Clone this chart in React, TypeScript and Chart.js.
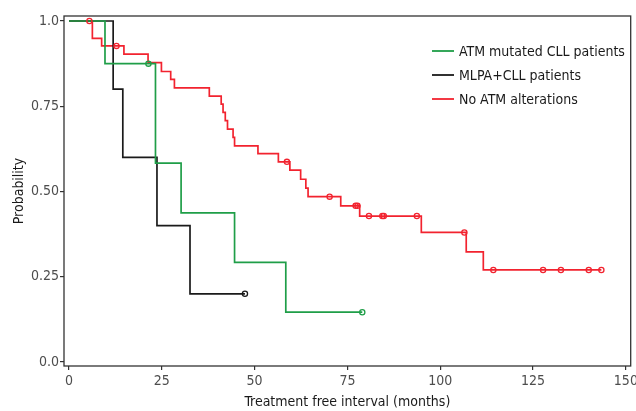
import React, { useEffect, useRef } from 'react';
import { Chart, registerables } from 'chart.js';

Chart.register(...registerables);

const FONT_FAMILY = "'Liberation Sans Narrow', 'Arial Narrow', 'DejaVu Sans Condensed', sans-serif";

const seriesNames = ['ATM mutated CLL patients', 'MLPA+CLL patients', 'No ATM alterations'];
const seriesColors = ['#1f9e48', '#1a1a1a', '#f2232f'];

// ATM mutated CLL patients
const atmTimes = [0, 9.7, 23.3, 30.2, 44.6, 58.4, 79.0];
const atmSurv = [1, 0.875, 0.583, 0.4375, 0.292, 0.146, 0.146];
const atmCensorTimes = [21.4, 79.0];
const atmCensorSurv = [0.875, 0.146];

// MLPA+CLL patients
const mlpaTimes = [0, 11.9, 14.5, 23.7, 32.6, 47.4];
const mlpaSurv = [1, 0.8, 0.6, 0.4, 0.2, 0.2];
const mlpaCensorTimes = [47.4];
const mlpaCensorSurv = [0.2];

// No ATM alterations
const noAtmTimes = [0, 6.3, 8.8, 14.8, 21.3, 24.9, 27.4, 28.4, 37.8, 41.0, 41.5, 42.1, 42.7, 44.2, 44.6, 50.9, 56.4, 59.5, 62.4, 63.8, 64.4, 73.2, 78.3, 94.9, 107.0, 111.6, 143.4];
const noAtmSurv = [1, 0.949, 0.927, 0.903, 0.878, 0.852, 0.829, 0.804, 0.78, 0.756, 0.732, 0.708, 0.683, 0.659, 0.634, 0.611, 0.587, 0.563, 0.536, 0.51, 0.485, 0.458, 0.428, 0.38, 0.323, 0.27, 0.27];
const noAtmCensorTimes = [5.5, 12.8, 58.7, 70.2, 77.2, 77.7, 80.8, 84.4, 84.8, 93.7, 106.5, 114.3, 127.7, 132.5, 140.0, 143.4];
const noAtmCensorSurv = [1, 0.927, 0.587, 0.485, 0.458, 0.458, 0.428, 0.428, 0.428, 0.428, 0.38, 0.27, 0.27, 0.27, 0.27, 0.27];

const xTickValues = [0, 25, 50, 75, 100, 125, 150];
const xTickLabels = ['0', '25', '50', '75', '100', '125', '150'];
const yTickValues = [0, 0.25, 0.5, 0.75, 1];
const yTickLabels = ['0.0', '0.25', '0.50', '0.75', '1.0'];

const toPoints = (xs: number[], ys: number[]) => xs.map((x, i) => ({ x, y: ys[i] }));

const framePlugin = {
  id: 'frame',
  afterDatasetsDraw(chart: any) {
    const { ctx, chartArea: a } = chart;
    ctx.save();
    ctx.strokeStyle = '#333333';
    ctx.lineWidth = 1.3;
    ctx.strokeRect(a.left, a.top, a.right - a.left, a.bottom - a.top);
    ctx.restore();
  },
};

const legendPlugin = {
  id: 'kmLegend',
  afterDraw(chart: any) {
    const { ctx, chartArea: a } = chart;
    ctx.save();
    ctx.font = `14px ${FONT_FAMILY}`;
    ctx.textBaseline = 'middle';
    ctx.textAlign = 'left';
    seriesNames.forEach((name, i) => {
      const y = a.top + 35 + i * 24;
      const x0 = a.left + 368;
      ctx.strokeStyle = seriesColors[i];
      ctx.lineWidth = 1.8;
      ctx.beginPath();
      ctx.moveTo(x0, y);
      ctx.lineTo(x0 + 22, y);
      ctx.stroke();
      ctx.fillStyle = '#1a1a1a';
      ctx.fillText(name, x0 + 27, y + 1);
    });
    ctx.restore();
  },
};

export default function App() {
  const canvasRef = useRef<HTMLCanvasElement | null>(null);

  useEffect(() => {
    if (!canvasRef.current) return;
    const lineDs = (label: string, data: any[], color: string) => ({
      label,
      data,
      borderColor: color,
      backgroundColor: color,
      borderWidth: 1.7,
      stepped: true,
      pointRadius: 0,
      fill: false,
      tension: 0,
    });
    const censorDs = (label: string, data: any[], color: string) => ({
      label,
      data,
      showLine: false,
      borderColor: color,
      pointBorderColor: color,
      pointBackgroundColor: 'rgba(255,255,255,0)',
      pointRadius: 2.6,
      pointBorderWidth: 1.3,
      pointStyle: 'circle',
    });

    const tickFont = { family: FONT_FAMILY, size: 14 };

    const chart = new Chart(canvasRef.current, {
      type: 'line',
      data: {
        datasets: [
          censorDs('atm-c', toPoints(atmCensorTimes, atmCensorSurv), seriesColors[0]),
          censorDs('mlpa-c', toPoints(mlpaCensorTimes, mlpaCensorSurv), seriesColors[1]),
          censorDs('noatm-c', toPoints(noAtmCensorTimes, noAtmCensorSurv), seriesColors[2]),
          lineDs(seriesNames[0], toPoints(atmTimes, atmSurv), seriesColors[0]),
          lineDs(seriesNames[1], toPoints(mlpaTimes, mlpaSurv), seriesColors[1]),
          lineDs(seriesNames[2], toPoints(noAtmTimes, noAtmSurv), seriesColors[2]),
        ] as any,
      },
      options: {
        animation: false,
        responsive: false,
        devicePixelRatio: 1,
        events: [],
        layout: { padding: { left: 0, top: 16, right: 3, bottom: 0 } },
        plugins: {
          legend: { display: false },
          tooltip: { enabled: false },
        },
        scales: {
          x: {
            type: 'linear',
            min: -1.34,
            max: 151.3,
            afterBuildTicks: (s: any) => {
              s.ticks = xTickValues.map((v) => ({ value: v }));
            },
            afterFit: (s: any) => {
              s.height = 45;
              s.paddingLeft = 0;
              s.paddingRight = 0;
            },
            ticks: {
              autoSkip: false,
              maxRotation: 0,
              padding: 3,
              color: '#4d4d4d',
              font: tickFont,
              callback: (v: any) => xTickLabels[xTickValues.indexOf(Number(v))],
            },
            grid: { display: true, drawOnChartArea: false, drawTicks: true, tickLength: 4, color: '#333333', lineWidth: 1.2 },
            border: { display: false },
            title: {
              display: true,
              text: 'Treatment free interval (months)',
              color: '#1a1a1a',
              font: { family: FONT_FAMILY, size: 14 },
              padding: { top: 0, bottom: 0 },
            },
          },
          y: {
            type: 'linear',
            min: -0.0117,
            max: 1.0147,
            afterBuildTicks: (s: any) => {
              s.ticks = yTickValues.map((v) => ({ value: v }));
            },
            afterFit: (s: any) => {
              s.width = 64;
              s.paddingTop = 0;
              s.paddingBottom = 0;
            },
            ticks: {
              autoSkip: false,
              padding: 1,
              color: '#4d4d4d',
              font: tickFont,
              callback: (v: any) => yTickLabels[yTickValues.indexOf(Number(v))],
            },
            grid: { display: true, drawOnChartArea: false, drawTicks: true, tickLength: 4, color: '#333333', lineWidth: 1.2 },
            border: { display: false },
            title: {
              display: true,
              text: 'Probability',
              color: '#1a1a1a',
              font: { family: FONT_FAMILY, size: 14 },
              padding: { top: 11, bottom: 0 },
            },
          },
        },
      } as any,
      plugins: [framePlugin, legendPlugin],
    });
    return () => chart.destroy();
  }, []);

  return (
    <div style={{ position: 'absolute', left: 0, top: 0, width: 636, height: 411, background: '#fff' }}>
      <canvas ref={canvasRef} width={636} height={411} style={{ display: 'block', width: 636, height: 411 }} />
    </div>
  );
}
